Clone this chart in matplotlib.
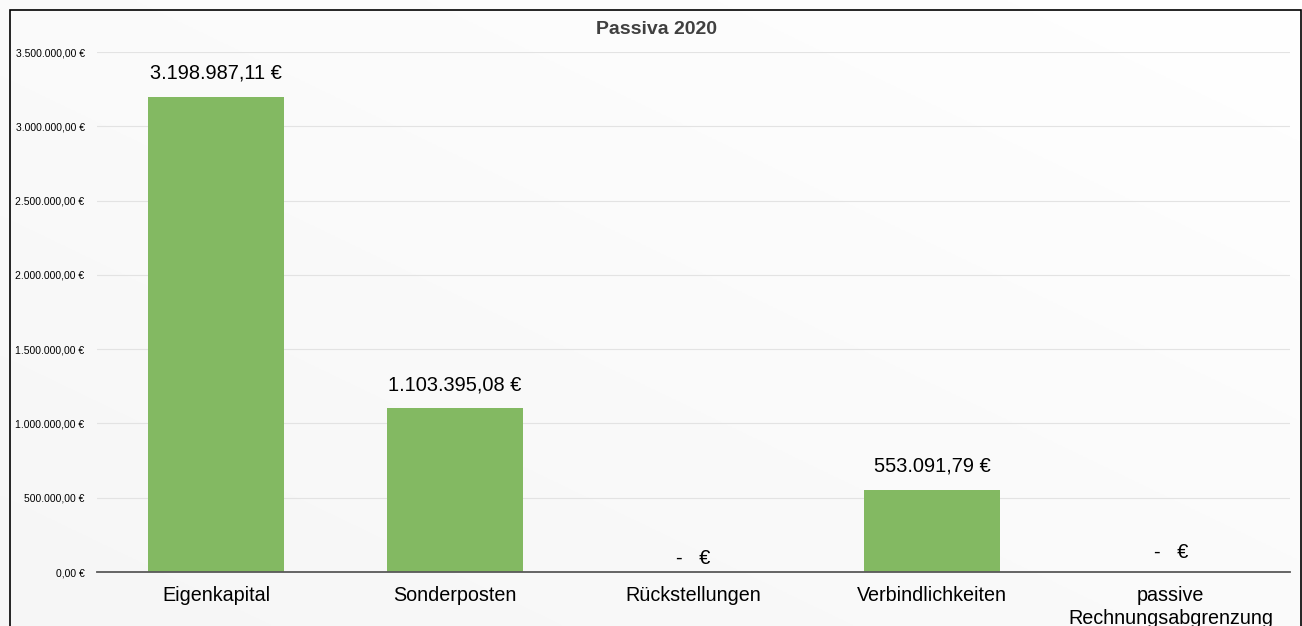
import matplotlib.pyplot as plt
import numpy as np
from matplotlib.patches import Rectangle

plt.rcParams['font.family'] = ['Liberation Sans', 'DejaVu Sans']

# Daten
kategorien = ['Eigenkapital', 'Sonderposten', 'Rückstellungen', 'Verbindlichkeiten',
              'passive\nRechnungsabgrenzung']
werte = [3198987.11, 1103395.08, 0.0, 553091.79, 0.0]
y_ticks = [0, 500000, 1000000, 1500000, 2000000, 2500000, 3000000, 3500000]


def euro(v):
    s = f'{v:,.2f}'.replace(',', 'X').replace('.', ',').replace('X', '.')
    return s + ' €'


fig = plt.figure(figsize=(13.02, 6.26), dpi=100)

# leichter Verlauf im Hintergrund (oben rechts weiss, unten links hellgrau)
bg = fig.add_axes([0, 0, 1, 1], zorder=-1)
g = np.linspace(0, 1, 256)
t = np.add.outer(g, g[::-1]) / 2   # 0 oben rechts ... 1 unten links
shade = 1.0 - 0.035 * t
bg.imshow(np.dstack([shade, shade, shade]), aspect='auto', extent=[0, 1, 0, 1])
bg.set_axis_off()

# Rahmen
fig.patches.append(Rectangle((10 / 1302, -0.05), (1301 - 10) / 1302, 1.05 - 10.5 / 626,
                             transform=fig.transFigure, fill=False,
                             edgecolor='black', linewidth=1.2))

ax = fig.add_axes([97 / 1302, 54 / 626, (1290 - 97) / 1302, (572 - 52) / 626])
ax.patch.set_alpha(0)

x = np.arange(len(kategorien))
ax.bar(x, werte, width=0.57, color='#83b962', zorder=2)

for xi, v in zip(x, werte):
    if v > 0:
        ax.annotate(euro(v), (xi, v), xytext=(0, 10), textcoords='offset points',
                    ha='center', va='bottom', fontsize=14.4)
    else:
        ax.annotate('-   €', (xi, v), xytext=(0, 3 if xi == 2 else 7),
                    textcoords='offset points', ha='center', va='bottom', fontsize=14.4)

ax.set_xlim(-0.5, len(kategorien) - 0.5)
ax.set_ylim(0, 3500000)
ax.set_yticks(y_ticks)
ax.set_yticklabels([euro(t) for t in y_ticks], fontsize=7.5)
ax.set_xticks(x)
ax.set_xticklabels(kategorien, fontsize=14.2, linespacing=1.3)
ax.tick_params(axis='both', length=0)
ax.tick_params(axis='x', pad=10)
ax.tick_params(axis='y', pad=9)
ax.grid(axis='y', color='#e3e3e3', linewidth=0.8, zorder=0)

for s in ['top', 'right', 'left']:
    ax.spines[s].set_visible(False)
ax.spines['bottom'].set_color('#595959')
ax.spines['bottom'].set_linewidth(1.3)
ax.spines['bottom'].set_zorder(3)

fig.text(656 / 1302, 1 - 29 / 626, 'Passiva 2020', ha='center', va='center',
         fontsize=14, fontweight='bold', color='#404040')

fig.savefig('out.png', dpi=100)
